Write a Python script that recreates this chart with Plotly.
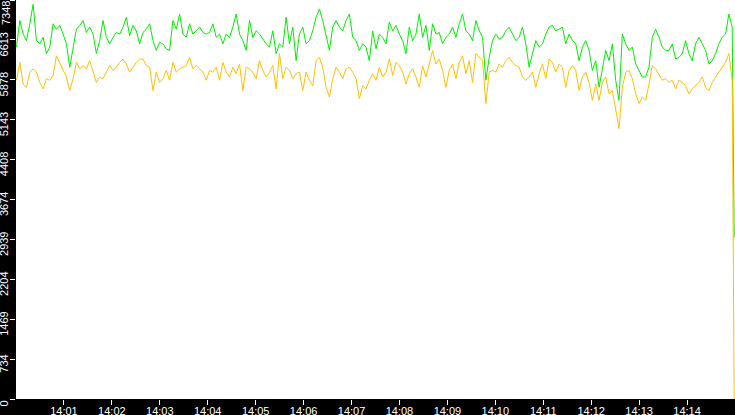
import numpy as np
import pandas as pd
import plotly.graph_objects as go

# samples, roughly one every 4.17 s starting 14:00:00.6
green_vals = [
    6480, 6970, 6720, 6600, 6910, 7270, 6600, 6540, 6660, 6360, 6480, 6910, 6810, 6880, 6720, 6540, 6110, 6480,
    6810, 6880, 6970, 6750, 6850, 6720, 6360, 6600, 6970, 6660, 6540, 6660, 6750, 6720, 6850, 7030, 6690, 6880,
    6780, 6540, 6750, 6810, 6910, 6600, 6420, 6570, 6540, 6450, 6420, 6970, 6810, 7090, 6720, 6660, 6910, 6720,
    6780, 6850, 6750, 6720, 6750, 6910, 6660, 6720, 6540, 6720, 6660, 6850, 7090, 6720, 6600, 6420, 6970, 6660,
    6780, 6720, 6630, 6540, 6480, 6780, 6360, 6540, 6480, 7030, 6540, 6850, 6230, 6720, 6850, 6540, 6600, 6780,
    7030, 7180, 6970, 6660, 6420, 6850, 6970, 6850, 6780, 6970, 7090, 6660, 6600, 6420, 6540, 6480, 6230, 6780,
    6450, 6720, 6660, 6540, 6940, 6780, 6880, 6720, 6600, 6360, 6850, 6600, 6720, 7090, 6660, 6880, 6420, 6910,
    6720, 6750, 6540, 6660, 6720, 6850, 6660, 6910, 7090, 6780, 6720, 6600, 6970, 6780, 6660, 5870, 6290, 6600,
    6720, 6630, 6660, 6780, 6850, 6720, 6600, 6660, 6850, 6540, 6110, 6360, 6600, 6480, 6540, 6720, 6850, 6880,
    6780, 6810, 6850, 6540, 6720, 6600, 6540, 6230, 6480, 6600, 6420, 6050, 6230, 5740, 6110, 6420, 6230, 6540,
    5870, 5500, 6720, 6540, 6420, 6480, 6170, 6050, 5930, 5930, 6110, 6660, 6810, 6660, 6480, 6420, 6420, 6540,
    6260, 6290, 6360, 6600, 6360, 6230, 6540, 6660, 6540, 6420, 6170, 6230, 6360, 6540, 6660, 6720, 7090, 6850,
]
yellow_vals = [
    5870, 6200, 5800, 5740, 6020, 6080, 6020, 5830, 5710, 5900, 5870, 5960, 6320, 6200, 6050, 5930, 5680, 5900,
    6200, 6080, 6140, 6080, 6230, 6020, 5830, 5930, 5900, 6020, 6140, 6050, 6110, 6200, 6260, 6170, 6020, 6110,
    6200, 6260, 6260, 6140, 6110, 5680, 6020, 5830, 5900, 6050, 5870, 6200, 6020, 6080, 6110, 6140, 6290, 6080,
    6140, 6080, 6020, 5870, 6050, 6020, 6110, 5870, 6200, 6020, 5930, 6110, 5990, 6170, 5680, 6110, 6080, 6020,
    5900, 6230, 6050, 5930, 6020, 6140, 5710, 6360, 5900, 6110, 6050, 5900, 5990, 6020, 5680, 6020, 5870, 5770,
    6230, 6290, 6110, 5740, 5560, 5900, 6110, 6020, 5900, 6080, 6110, 6020, 5900, 5530, 5770, 5710, 5870, 5990,
    5870, 6110, 5930, 6020, 6260, 5960, 6200, 6140, 6020, 5800, 5990, 6080, 5930, 5740, 6140, 5930, 6200, 6420,
    6170, 6260, 6050, 5740, 6050, 6170, 5900, 6200, 6320, 5990, 6230, 5830, 6360, 6290, 6230, 5440, 6020, 6050,
    6020, 6170, 6110, 6230, 6290, 6200, 6140, 6110, 5930, 5870, 5930, 6020, 5740, 5990, 6170, 5900, 6260, 6200,
    6020, 6170, 6110, 5740, 6050, 6140, 6050, 5680, 5930, 6020, 5830, 5500, 5800, 5500, 5830, 5930, 5620, 5680,
    5310, 4980, 5740, 6020, 6050, 5900, 5620, 5440, 5560, 5500, 5800, 6140, 6080, 5960, 5870, 5900, 5830, 5870,
    5710, 5870, 5830, 5770, 5620, 5710, 5770, 5830, 5930, 5740, 5680, 5830, 5930, 6020, 6110, 6200, 6360, 5870,
]
# last sample at 14:14:59, where both series fall away
green_last = 2980
yellow_last = 0

y_ticks = [0, 734, 1469, 2204, 2939, 3674, 4408, 5143, 5878, 6613, 7348]
y_max = 7348
x_ticks = ['14:%02d' % m for m in range(1, 15)]

times = pd.date_range("2024-01-01 14:00:00.6", periods=len(green_vals), freq="4167ms")
times = times.append(pd.DatetimeIndex(["2024-01-01 14:14:59"]))
green = green_vals + [green_last]
yellow = yellow_vals + [yellow_last]

fig = go.Figure()
fig.add_trace(go.Scatter(x=times, y=green, mode='lines', line=dict(color='#00ee00', width=1)))
fig.add_trace(go.Scatter(x=times, y=yellow, mode='lines', line=dict(color='#ffc000', width=1)))

# the top label would be cut by the window edge, so it is drawn lower as an annotation
y_text = [str(v) for v in y_ticks]
y_text[-1] = ''
fig.add_annotation(text=str(y_ticks[-1]), textangle=-90, showarrow=False,
                   xref='paper', x=0, xanchor='center', xshift=-10,
                   yref='paper', y=1, yanchor='middle', yshift=-13,
                   font=dict(family='Liberation Sans, Arial, sans-serif', size=11, color='white'))

fig.update_layout(
    width=735, height=415,
    margin=dict(l=16, r=0, t=0, b=16, autoexpand=False),
    paper_bgcolor='black', plot_bgcolor='white',
    showlegend=False,
    font=dict(family='Liberation Sans, Arial, sans-serif', size=11, color='white'),
)
fig.update_xaxes(
    range=['2024-01-01 14:00:00', '2024-01-01 14:15:00'],
    tickvals=['2024-01-01 ' + t for t in x_ticks], ticktext=x_ticks,
    ticks='outside', ticklen=5, tickcolor='white', ticklabelstandoff=-3, ticklabeloverflow='allow',
    showgrid=False, zeroline=False, showline=False, automargin=False,
)
fig.update_yaxes(
    range=[0, y_max],
    tickvals=[y_max * i / 10 for i in range(11)], ticktext=y_text,
    tickangle=-90, ticklabelshift=6, ticklabeloverflow='allow', ticklabelstandoff=-2,
    ticks='outside', ticklen=5, tickcolor='white',
    showgrid=False, zeroline=False, showline=False, automargin=False,
)

# page body has a default margin; drop it so the chart fills the window
fig.write_html("out.html", config={'displayModeBar': False},
               post_script="document.body.style.margin='0';")
